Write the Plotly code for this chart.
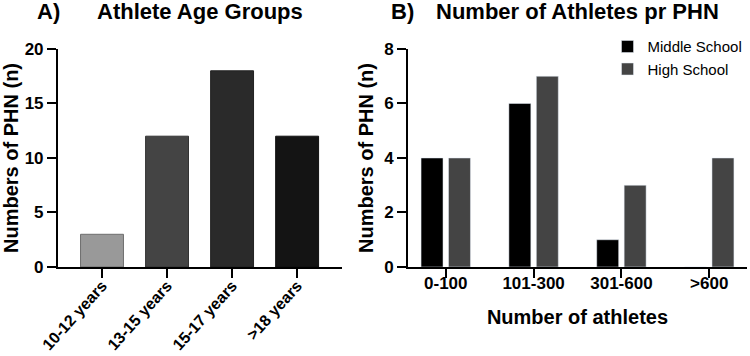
import plotly.graph_objects as go

# Panel A data
age_groups = ["10-12 years", "13-15 years", "15-17 years", ">18 years"]
age_counts = [3, 12, 18, 12]
age_colors = ["#999999", "#444444", "#2a2a2a", "#141414"]
age_line_colors = ["#6e6e6e", "#333333", "#222222", "#101010"]

# Panel B data
athlete_bins = ["0-100", "101-300", "301-600", ">600"]
middle_school = [4, 6, 1, 0]
high_school = [4, 7, 3, 4]

FONT = "Liberation Sans, Arial, sans-serif"

fig = go.Figure()

fig.add_trace(go.Bar(
    x=age_groups, y=age_counts, xaxis="x", yaxis="y",
    marker=dict(color=age_colors, line=dict(color=age_line_colors, width=1)),
    width=0.66, showlegend=False,
))

fig.add_trace(go.Bar(
    x=athlete_bins, y=middle_school, xaxis="x2", yaxis="y2",
    name="Middle School", marker=dict(color="#000000"),
))
fig.add_trace(go.Bar(
    x=athlete_bins, y=high_school, xaxis="x2", yaxis="y2",
    name="High School", marker=dict(color="#444444"),
))

axis_common = dict(
    showline=True, linecolor="black", linewidth=2,
    ticks="outside", ticklen=9, tickwidth=2, tickcolor="black",
    showgrid=False, zeroline=False, automargin=False,
)
tick_font = dict(family=FONT, size=17, color="black", weight="bold")
title_font = dict(family=FONT, size=20, color="black", weight="bold")

ydom = [0.25, 0.8624]

fig.update_layout(
    width=750, height=356,
    margin=dict(l=0, r=0, t=0, b=0, autoexpand=False),
    paper_bgcolor="white", plot_bgcolor="white",
    barmode="group", bargap=0.375, bargroupgap=0.2,
    font=dict(family=FONT, color="black"),
    xaxis=dict(domain=[0.0773, 0.456], anchor="y", range=[-0.677, 3.69],
               tickangle=-48, ticklabelstandoff=-8,
               tickfont=dict(family=FONT, size=16, color="black", weight="bold"),
               **axis_common),
    yaxis=dict(domain=ydom, anchor="x", range=[0, 20], tickvals=[0, 5, 10, 15, 20],
               tickfont=tick_font,
               title=dict(text="Numbers of PHN (n)", standoff=10, font=title_font),
               **axis_common),
    xaxis2=dict(domain=[0.544, 0.996], anchor="y2", range=[-0.43, 3.43],
                ticklabelstandoff=-9, tickfont=tick_font,
                title=dict(text="Number of athletes", standoff=18, font=title_font),
                **axis_common),
    yaxis2=dict(domain=ydom, anchor="x2", range=[0, 8], tickvals=[0, 2, 4, 6, 8],
                tickfont=tick_font,
                title=dict(text="Numbers of PHN (n)", standoff=5, font=title_font),
                **axis_common),
    legend=dict(x=0.81, y=0.915, xanchor="left", yanchor="top",
                font=dict(family=FONT, size=15, color="black"),
                tracegroupgap=0, bgcolor="rgba(0,0,0,0)"),
)

# title annotations, positions given in pixels and converted to paper coords
titles = [
    ("<b>A)</b>", 35, 12, "left"),
    ("<b>Athlete Age Groups</b>", 199.5, 12, "center"),
    ("<b>B)</b>", 389, 11, "left"),
    ("<b>Number of Athletes pr PHN</b>", 577, 11, "center"),
]
anns = []
for text, px, py, xanchor in titles:
    anns.append(dict(text=text, x=px / 750, y=1 - py / 356, xref="paper", yref="paper",
                     xanchor=xanchor, yanchor="middle", showarrow=False,
                     font=dict(family=FONT, size=22, color="black")))
fig.update_layout(annotations=anns)

fig.write_html("out.html")
